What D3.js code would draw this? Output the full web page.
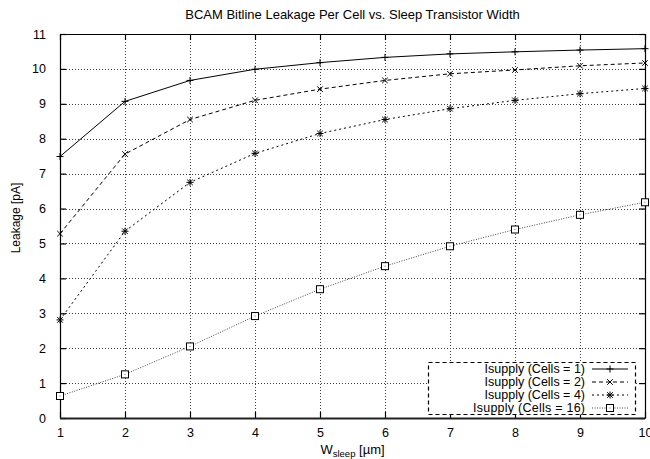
<!DOCTYPE html>
<html>
<head>
<meta charset="utf-8">
<script src="https://cdn.jsdelivr.net/npm/d3@7"></script>
<style>
    body { margin: 0; background: #fff; }
    svg { display: block; font-family: "Liberation Sans", Arial, sans-serif; }
</style>
</head>
<body>
<svg></svg>
<script>
const
    widths = [1, 2, 3, 4, 5, 6, 7, 8, 9, 10],
    cells1 = [7.49, 9.07, 9.67, 9.99, 10.18, 10.33, 10.43, 10.49, 10.54, 10.58],
    cells2 = [5.28, 7.56, 8.55, 9.1, 9.42, 9.67, 9.86, 9.97, 10.09, 10.17],
    cells4 = [2.81, 5.35, 6.75, 7.58, 8.15, 8.55, 8.86, 9.1, 9.29, 9.44],
    cells16 = [0.63, 1.25, 2.05, 2.92, 3.69, 4.35, 4.92, 5.4, 5.82, 6.18],
    seriesNames = ['Isupply (Cells = 1)', 'Isupply (Cells = 2)', 'Isupply (Cells = 4)', 'Isupply (Cells = 16)'],
    yTicks = [0, 1, 2, 3, 4, 5, 6, 7, 8, 9, 10, 11]

const
    width = 650,
    height = 459,
    margin = { top: 34, right: 5, bottom: 41, left: 60 }

const series = [
    { name: seriesNames[0], values: cells1, dash: null, marker: 'plus', color: '#000' },
    { name: seriesNames[1], values: cells2, dash: '4,3', marker: 'cross', color: '#000' },
    { name: seriesNames[2], values: cells4, dash: '2,3', marker: 'star', color: '#000' },
    { name: seriesNames[3], values: cells16, dash: '1,1.5', marker: 'square', color: '#444' }
]

const x = d3.scaleLinear()
    .domain([1, 10])
    .range([margin.left, width - margin.right])

const y = d3.scaleLinear()
    .domain([0, 11])
    .range([height - margin.bottom, margin.top])

const svg = d3.select('svg')
    .attr('width', width)
    .attr('height', height)

// grid
const grid = svg.append('g')
    .attr('stroke', '#000')
    .attr('stroke-width', 1)
    .attr('stroke-dasharray', '1,2')
    .attr('opacity', 0.75)

grid.selectAll('.gx').data(widths.slice(1, -1)).enter().append('line')
    .attr('x1', d => Math.round(x(d)) + 0.5)
    .attr('x2', d => Math.round(x(d)) + 0.5)
    .attr('y1', y(0))
    .attr('y2', y(11))

grid.selectAll('.gy').data(yTicks.slice(1, -1)).enter().append('line')
    .attr('y1', d => Math.round(y(d)) + 0.5)
    .attr('y2', d => Math.round(y(d)) + 0.5)
    .attr('x1', x(1))
    .attr('x2', x(10))

// axes (gnuplot style: inward ticks, mirrored)
const xAxis = g => g
    .attr('transform', `translate(0,${y(0)})`)
    .call(d3.axisBottom(x).tickValues(widths).tickSize(-6).tickPadding(10).tickSizeOuter(0))

const xAxisTop = g => g
    .attr('transform', `translate(0,${y(11)})`)
    .call(d3.axisTop(x).tickValues(widths).tickSize(-6).tickFormat('').tickSizeOuter(0))

const yAxis = g => g
    .attr('transform', `translate(${x(1)},0)`)
    .call(d3.axisLeft(y).tickValues(yTicks).tickSize(-6).tickPadding(14).tickSizeOuter(0))

const yAxisRight = g => g
    .attr('transform', `translate(${x(10)},0)`)
    .call(d3.axisRight(y).tickValues(yTicks).tickSize(-6).tickFormat('').tickSizeOuter(0))

;[xAxis, xAxisTop, yAxis, yAxisRight].forEach(a => {
    svg.append('g').call(a)
        .call(g => g.selectAll('text').attr('font-size', 12.5).attr('fill', '#000').attr('font-family', '"Liberation Sans", Arial, sans-serif'))
        .call(g => g.selectAll('line,path').attr('stroke', '#000').attr('stroke-width', 1.2))
})

// heavier bottom frame line, as in the original
svg.append('line')
    .attr('x1', x(1))
    .attr('x2', x(10))
    .attr('y1', y(0) + 0.5)
    .attr('y2', y(0) + 0.5)
    .attr('stroke', '#222')
    .attr('stroke-width', 2)

// lines
const line = d3.line()
    .x((d, i) => x(widths[i]))
    .y(d => y(d))

function marker(sel, type, s) {
    if (type === 'plus' || type === 'star') {
        sel.append('path').attr('d', `M${-s},0H${s}M0,${-s}V${s}`)
    }
    if (type === 'cross' || type === 'star') {
        const c = s * 0.8
        sel.append('path').attr('d', `M${-c},${-c}L${c},${c}M${-c},${c}L${c},${-c}`)
    }
    if (type === 'square') {
        sel.append('rect').attr('x', -s).attr('y', -s).attr('width', 2 * s).attr('height', 2 * s).attr('fill', '#fff')
        sel.append('rect').attr('x', -0.5).attr('y', -0.5).attr('width', 1).attr('height', 1).attr('fill', '#666').attr('stroke', 'none')
    }
}

series.forEach(s => {
    svg.append('path')
        .datum(s.values)
        .attr('fill', 'none')
        .attr('stroke', s.color)
        .attr('stroke-width', 1)
        .attr('stroke-dasharray', s.dash)
        .attr('d', line)

    svg.append('g').selectAll('g')
        .data(s.values)
        .enter().append('g')
        .attr('transform', (d, i) => `translate(${x(widths[i])},${y(d)})`)
        .attr('stroke', '#000')
        .attr('stroke-width', 1)
        .attr('fill', 'none')
        .each(function () { marker(d3.select(this), s.marker, 3.5) })
})

// legend
const legend = svg.append('g')

legend.append('rect')
    .attr('x', 428.5)
    .attr('y', 362.5)
    .attr('width', 207)
    .attr('height', 52)
    .attr('fill', '#fff')
    .attr('stroke', '#000')
    .attr('stroke-width', 1.2)
    .attr('stroke-dasharray', '4,3')

series.forEach((s, i) => {
    const ly = 369 + i * 13
    legend.append('text')
        .attr('x', 585)
        .attr('y', ly)
        .attr('dy', '0.35em')
        .attr('text-anchor', 'end')
        .attr('font-size', 12.5)
        .attr('textLength', i === 3 ? 112 : null)
        .text(s.name)

    legend.append('line')
        .attr('x1', 592)
        .attr('x2', 628)
        .attr('y1', ly)
        .attr('y2', ly)
        .attr('stroke', s.color)
        .attr('stroke-dasharray', s.dash)

    legend.append('g')
        .attr('transform', `translate(610,${ly})`)
        .attr('stroke', '#000')
        .attr('fill', 'none')
        .each(function () { marker(d3.select(this), s.marker, 3.5) })
})

// titles, centred on the plot area
const cx = (x(1) + x(10)) / 2

svg.append('text')
    .attr('x', cx)
    .attr('y', 19)
    .attr('text-anchor', 'middle')
    .attr('font-size', 13)
    .text('BCAM Bitline Leakage Per Cell vs. Sleep Transistor Width')

const xl = svg.append('text')
    .attr('x', cx)
    .attr('y', 454)
    .attr('text-anchor', 'middle')
    .attr('font-size', 13)
xl.append('tspan').text('W')
xl.append('tspan').attr('font-size', 9.5).attr('dy', 3).text('sleep')
xl.append('tspan').attr('dy', -3).text(' [µm]')

svg.append('text')
    .attr('transform', `translate(20,218) rotate(-90)`)
    .attr('text-anchor', 'middle')
    .attr('font-size', 12)
    .text('Leakage [pA]')
</script>
</body>
</html>
